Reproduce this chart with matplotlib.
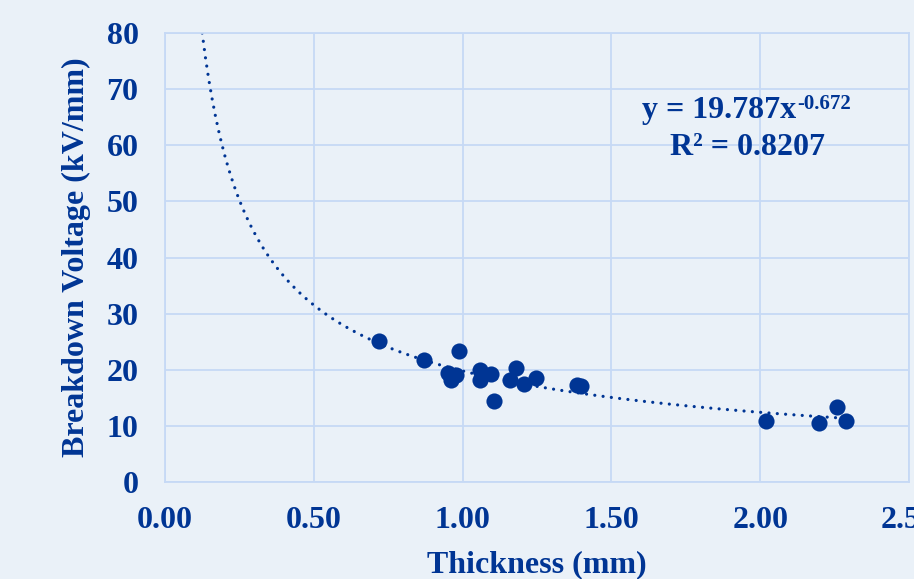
import numpy as np
import matplotlib
matplotlib.use("Agg")
import matplotlib.pyplot as plt

thickness = [0.718, 0.869, 0.987, 0.950, 0.960, 0.977, 1.057, 1.057, 1.097, 1.107,
             1.158, 1.178, 1.208, 1.248, 1.386, 1.399, 2.020, 2.198, 2.258, 2.289]
voltage = [25.1, 21.7, 23.4, 19.4, 18.2, 19.1, 20.0, 18.2, 19.3, 14.4,
           18.2, 20.3, 17.5, 18.5, 17.3, 17.1, 10.9, 10.5, 13.4, 10.9]
coef_a = 19.787
coef_b = -0.672
r2 = 0.8207
x_ticks = [0.0, 0.5, 1.0, 1.5, 2.0, 2.5]
y_ticks = [0, 10, 20, 30, 40, 50, 60, 70, 80]

navy = "#003594"
bg = "#EAF1F8"
gridc = "#C6D9F5"
fs = 23

plt.rcParams['font.family'] = ['Liberation Serif', 'DejaVu Serif']
plt.rcParams['font.weight'] = 'bold'

fig = plt.figure(figsize=(9.14, 5.79), dpi=100, facecolor=bg)
ax = fig.add_axes([0.1805, 0.1675, 0.9945 - 0.1805, 0.943 - 0.1675])
ax.set_facecolor(bg)

# trendline
x0 = (80 / coef_a) ** (1 / coef_b)
xs = np.linspace(x0, max(thickness), 400)
ax.plot(xs, coef_a * xs ** coef_b, color=navy, lw=2.3, linestyle=(0, (0.01, 2.6)),
        dash_capstyle='round', zorder=2)

ax.scatter(thickness, voltage, s=135, color=navy, zorder=3, linewidths=0)

ax.set_xlim(0, 2.5)
ax.set_ylim(0, 80)
ax.set_xticks(x_ticks)
ax.set_yticks(y_ticks)
ax.set_xticklabels([f"{v:.2f}" for v in x_ticks])
ax.set_yticklabels([str(v) for v in y_ticks])
ax.tick_params(length=0, labelsize=fs, colors=navy)
ax.tick_params(axis='x', pad=17)
ax.tick_params(axis='y', pad=19)
for lab in ax.get_xticklabels() + ax.get_yticklabels():
    lab.set_fontweight('bold')
ax.grid(True, color=gridc, lw=1.3)
ax.set_axisbelow(True)
for s in ax.spines.values():
    s.set_color(gridc)
    s.set_linewidth(1.3)

ax.set_xlabel("Thickness (mm)", fontsize=fs, color=navy, fontweight='bold', labelpad=11)
ax.set_ylabel("Breakdown Voltage (kV/mm)", fontsize=fs, color=navy, fontweight='bold', labelpad=11)

t1 = ax.text(1.604, 64.9, f"y = {coef_a}x", ha='left', va='baseline',
             fontsize=fs, color=navy, fontweight='bold')
ax.annotate(f"{coef_b}", xy=(1, 1), xycoords=t1, xytext=(0.5, 1.5),
            textcoords='offset points', ha='left', va='top',
            fontsize=15, color=navy, fontweight='bold')
ax.text(1.956, 58.3, f"R² = {r2}", ha='center', va='baseline',
        fontsize=fs, color=navy, fontweight='bold')

fig.savefig("out.png", dpi=100, facecolor=bg)
